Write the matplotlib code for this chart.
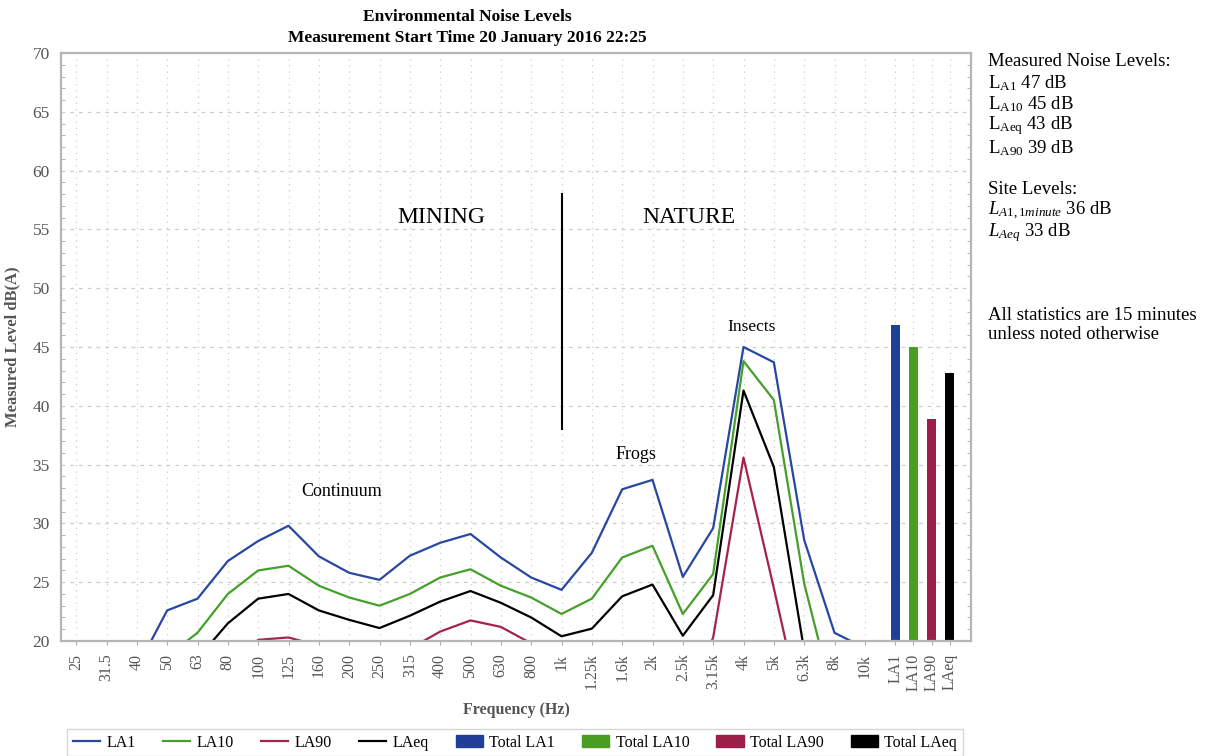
import numpy as np
import matplotlib
matplotlib.use("Agg")
import matplotlib.pyplot as plt
from matplotlib.lines import Line2D
from matplotlib.patches import Patch

plt.rcParams['font.family'] = ['Liberation Serif', 'DejaVu Serif']
plt.rcParams['mathtext.fontset'] = 'custom'
plt.rcParams['mathtext.rm'] = 'Liberation Serif'
plt.rcParams['mathtext.it'] = 'Liberation Serif:italic'

# data
freq_labels = ['25', '31.5', '40', '50', '63', '80', '100', '125', '160', '200', '250',
               '315', '400', '500', '630', '800', '1k', '1.25k', '1.6k', '2k', '2.5k',
               '3.15k', '4k', '5k', '6.3k', '8k', '10k']
total_labels = ['LA1', 'LA10', 'LA90', 'LAeq']

la1 = [14, 16, 17.7, 22.6, 23.6, 26.8, 28.5, 29.8, 27.2, 25.8, 25.2, 27.25, 28.35, 29.1,
       27.1, 25.4, 24.35, 27.5, 32.9, 33.7, 25.45, 29.6, 45.0, 43.7, 28.6, 20.7, 19.4]
la10 = [12, 14, 16, 18.7, 20.7, 24.0, 26.0, 26.4, 24.7, 23.7, 23.0, 24.0, 25.4, 26.1,
        24.7, 23.7, 22.3, 23.6, 27.1, 28.1, 22.3, 25.7, 43.8, 40.5, 24.9, 14.7, 13]
la90 = [8, 10, 12, 14, 16, 17.5, 20.1, 20.3, 19.6, 18.5, 18.0, 19.35, 20.8, 21.75,
        21.2, 19.8, 17.5, 16.5, 17.5, 18, 14.3, 20.3, 35.6, 24.5, 13, 9, 8]
laeq = [11, 13, 15, 17, 18.5, 21.5, 23.6, 24.0, 22.6, 21.8, 21.1, 22.15, 23.35, 24.25,
        23.25, 22.0, 20.4, 21.05, 23.8, 24.8, 20.45, 23.9, 41.3, 34.8, 19.2, 12, 11]
totals = [46.9, 45.0, 38.85, 42.8]

c_blue = '#2747a0'
c_green = '#45a02a'
c_red = '#a3234d'
c_black = '#000000'
bar_colors = ['#1f3f99', '#4a9e22', '#9c1f48', '#000000']

x = np.arange(len(freq_labels))
x_bar = len(freq_labels) + 0.6 * np.arange(len(total_labels))

fig = plt.figure(figsize=(12.1, 7.56), dpi=100)
ax = fig.add_axes([61 / 1210, 1 - 641 / 756, 910 / 1210, 588 / 756])

ax.plot(x, la1, color=c_blue, lw=1.6, label='LA1')
ax.plot(x, la10, color=c_green, lw=1.6, label='LA10')
ax.plot(x, la90, color=c_red, lw=1.6, label='LA90')
ax.plot(x, laeq, color=c_black, lw=1.6, label='LAeq')
ax.bar(x_bar, totals, width=0.3, color=bar_colors)

ax.set_xlim(-0.5, 29.5)
ax.set_ylim(20, 70)
ax.set_xticks(list(x) + list(x_bar))
ax.set_xticklabels(freq_labels + total_labels, rotation=90, fontsize=11.5, color='#555555')
ax.set_yticks(np.arange(20, 71, 5))
ax.set_yticks(np.arange(20, 71, 1), minor=True)
ax.tick_params(axis='y', which='major', labelsize=12.5, colors='#555555', length=0, pad=8)
ax.tick_params(axis='y', which='minor', direction='in', length=3, color='#aaaaaa',
               left=True, right=True)
ax.tick_params(axis='x', length=3, color='#aaaaaa', pad=6)

ax.grid(axis='x', color='#cccccc', ls=(0, (1, 4)), lw=0.9)
ax.grid(axis='y', which='major', color='#cccccc', ls=(0, (3, 4)), lw=0.9)
ax.set_axisbelow(True)
for s in ax.spines.values():
    s.set_color('#b5b5b5')
    s.set_linewidth(1.6)

ax.set_ylabel('Measured Level dB(A)', fontsize=12, fontweight='bold', color='#555555',
              labelpad=9)
ax.set_xlabel('Frequency (Hz)', fontsize=11.5, fontweight='bold', color='#555555',
              labelpad=8)

# annotations
ax.plot([16, 16], [38, 58], color='black', lw=1.5)
ax.text(12.05, 56, 'MINING', ha='center', va='center', fontsize=17)
ax.text(20.2, 56, 'NATURE', ha='center', va='center', fontsize=17)
ax.text(8.76, 32.7, 'Continuum', ha='center', va='center', fontsize=13)
ax.text(18.45, 35.9, 'Frogs', ha='center', va='center', fontsize=13)
ax.text(22.27, 46.7, 'Insects', ha='center', va='center', fontsize=12.5)

fig.text(467 / 1210, 1 - 17 / 756, 'Environmental Noise Levels', ha='center', va='center',
         fontsize=12.5, fontweight='bold')
fig.text(467 / 1210, 1 - 38 / 756, 'Measurement Start Time 20 January 2016 22:25',
         ha='center', va='center', fontsize=12.5, fontweight='bold')

side = [(61, 'Measured Noise Levels:'),
        (83, r'L$_{\rm A1}$ 47 dB'),
        (104, r'L$_{\rm A10}$ 45 dB'),
        (126, r'L$_{\rm Aeq}$ 43 dB'),
        (148, r'L$_{\rm A90}$ 39 dB'),
        (189, 'Site Levels:'),
        (211, r'$L_{A1,1minute}$ 36 dB'),
        (233, r'$L_{Aeq}$ 33 dB'),
        (315, 'All statistics are 15 minutes'),
        (334, 'unless noted otherwise')]
for yy, t in side:
    fig.text(988 / 1210, 1 - yy / 756, t, ha='left', va='center', fontsize=13.5)

handles = [Line2D([], [], color=c, lw=1.6) for c in [c_blue, c_green, c_red, c_black]]
handles += [Patch(color=c) for c in bar_colors]
labels = ['LA1', 'LA10', 'LA90', 'LAeq', 'Total LA1', 'Total LA10', 'Total LA90', 'Total LAeq']
leg = fig.legend(handles, labels, loc='upper center', bbox_to_anchor=(515 / 1210, 1 - 721 / 756),
                 ncol=8, fontsize=11.5, frameon=True, fancybox=False, edgecolor='#cccccc',
                 handlelength=1.7, handletextpad=0.4, columnspacing=1.7, borderpad=0.35)
leg.get_frame().set_linewidth(1.0)

fig.savefig('out.png', dpi=100)
